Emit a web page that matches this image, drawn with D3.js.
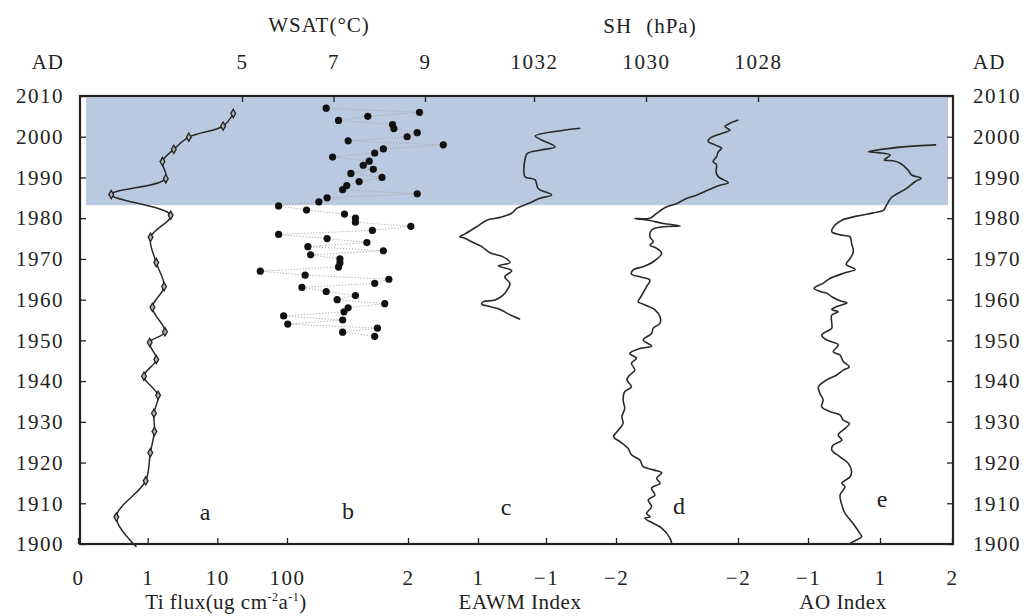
<!DOCTYPE html>
<html>
<head>
<meta charset="utf-8">
<script src="https://cdn.jsdelivr.net/npm/d3@7/dist/d3.min.js"></script>
<style>
html,body{margin:0;padding:0;background:#fff;}
svg text{font-family:"Liberation Serif","Times New Roman",serif;fill:#222;}
</style>
</head>
<body>
<svg id="chart" width="1027" height="616"></svg>
<script>
// ---------------- DATA ----------------
const yearTicks = [1900,1910,1920,1930,1940,1950,1960,1970,1980,1990,2000,2010];
const bandYears = [1983.2, 2009.7];

// a: Ti flux (ug cm-2 a-1), log scale
const tiYear = [2005.7,2002.6,1999.9,1996.9,1993.9,1989.7,1985.8,1980.7,1975.3,1969.1,1963.2,1958.1,1952.1,1949.5,1945.3,1941.2,1936.5,1932.1,1927.6,1922.4,1915.5,1906.6,1899.3];
const tiFlux = [16.9,12.1,3.9,2.37,1.63,1.82,0.30,2.14,1.10,1.33,1.72,1.17,1.77,1.07,1.33,0.885,1.41,1.23,1.25,1.09,0.936,0.355,0.69];
const tiTickValues = [0.1,1,10,100];
const tiTickLabels = ["0","1","10","100"];

// b: WSAT (°C), annual 2007 -> 1951
const wsatYear = d3.range(2007,1950,-1);
const wsatValue = [6.84,8.88,7.75,7.11,8.29,8.32,8.83,8.61,7.32,9.40,8.09,7.90,6.98,7.78,7.65,7.87,7.38,8.06,7.56,7.29,7.20,8.83,6.86,6.68,5.80,6.41,7.24,7.48,7.48,8.69,7.85,5.80,6.86,7.73,6.44,8.09,6.50,7.14,7.14,7.11,5.40,6.38,8.21,7.90,6.31,6.84,7.48,7.08,8.12,7.32,7.23,5.91,7.20,6.00,7.96,7.20,7.90];
const wsatTicks = [5,7,9];

// c: EAWM Index
const eawmYear = [2002.1,2001.6,2000.2,1999.4,1997.5,1996.7,1995.9,1994.3,1992.2,1990.2,1989.4,1987.3,1985.7,1984.9,1983.6,1982.4,1981.2,1980.2,1979.5,1977.9,1976.1,1975.4,1975.1,1974.2,1973.0,1971.5,1970.5,1969.1,1968.3,1967.1,1965.6,1964.0,1962.8,1961.1,1959.9,1959.5,1958.9,1958.3,1957.6,1956.5,1955.2];
const eawmIndex = [-1.49,-1.25,-0.68,-0.82,-1.13,-0.82,-0.45,-0.38,-0.35,-0.38,-0.68,-0.77,-1.08,-0.82,-0.48,-0.14,0.01,0.35,0.74,1.02,1.19,1.26,1.19,1.09,0.89,0.65,0.26,0.06,0.40,0.01,0.21,0.06,0.11,0.26,0.50,0.84,0.89,0.65,0.35,0.11,-0.24];
const eawmTicks = [2,1,-1,-2];

// d: SH (hPa)
const shYear = [2004.1,2003.3,2002.5,2001.6,2000.8,1999.6,1998.8,1998.0,1997.2,1996.3,1995.1,1993.9,1993.1,1991.4,1990.2,1988.7,1988.1,1986.9,1985.7,1984.9,1983.6,1982.8,1981.2,1980.0,1979.9,1979.5,1978.7,1978.1,1977.9,1977.1,1975.4,1974.2,1973.4,1972.6,1971.4,1969.3,1968.1,1967.3,1966.3,1965.6,1964.8,1963.2,1961.7,1960.3,1959.5,1958.7,1957.5,1955.8,1954.2,1953.0,1951.7,1950.1,1948.6,1948.0,1946.8,1945.6,1944.4,1942.7,1941.5,1940.3,1938.6,1937.4,1935.4,1933.3,1931.3,1929.6,1928.0,1926.3,1925.1,1923.5,1921.9,1920.6,1919.0,1918.2,1917.5,1916.1,1914.9,1913.7,1912.0,1910.8,1909.2,1907.5,1906.7,1906.3,1905.1,1903.9,1901.4,1900.0];
const shValue = [1028.35,1028.50,1028.59,1028.50,1028.65,1028.86,1028.89,1028.77,1028.65,1028.71,1028.74,1028.80,1028.74,1028.75,1028.71,1028.53,1028.68,1028.89,1029.09,1029.27,1029.45,1029.63,1029.81,1029.93,1030.20,1029.96,1029.69,1029.39,1029.69,1029.90,1029.93,1029.87,1029.93,1029.81,1029.72,1029.87,1030.05,1030.23,1030.26,1030.11,1029.93,1029.99,1030.05,1030.11,1030.14,1030.02,1029.84,1029.75,1029.75,1029.87,1029.90,1030.05,1029.90,1030.11,1030.29,1030.17,1030.26,1030.20,1030.29,1030.34,1030.26,1030.38,1030.41,1030.38,1030.43,1030.41,1030.49,1030.58,1030.46,1030.32,1030.26,1030.11,1030.05,1029.87,1029.72,1029.81,1029.75,1029.90,1029.84,1029.96,1029.90,1029.99,1029.93,1030.02,1029.87,1029.72,1029.57,1029.54];
const shTicks = [1032,1030,1028];

// e: AO Index
const aoYear = [1998.0,1997.5,1996.3,1996.1,1995.5,1994.3,1994.1,1993.5,1991.8,1990.6,1989.8,1989.0,1987.3,1985.7,1985.1,1983.2,1982.0,1981.3,1980.5,1979.5,1978.3,1976.7,1975.9,1975.4,1973.8,1971.8,1970.1,1968.7,1967.4,1966.6,1965.2,1964.0,1962.8,1961.9,1961.6,1960.7,1959.7,1959.2,1958.3,1957.6,1957.0,1956.2,1954.2,1953.0,1951.3,1950.1,1948.9,1947.2,1946.4,1944.8,1943.5,1942.7,1941.5,1940.3,1938.6,1937.0,1935.4,1933.7,1932.5,1931.7,1930.4,1929.6,1928.4,1926.8,1925.5,1924.3,1923.1,1921.4,1919.8,1917.8,1916.5,1914.9,1914.1,1912.0,1909.6,1907.5,1905.5,1902.6,1901.8,1900.8,1900.2];
const aoValue = [1.78,1.32,0.68,0.95,1.14,1.06,1.18,1.28,1.39,1.44,1.57,1.49,1.37,1.21,1.16,1.09,1.05,0.81,0.35,-0.06,-0.25,-0.34,-0.11,0.17,0.21,0.26,0.17,0.06,0.31,0.03,-0.39,-0.58,-0.83,-0.62,-0.48,-0.34,-0.11,0.08,-0.20,-0.34,-0.16,-0.34,-0.34,-0.34,-0.62,-0.48,-0.16,-0.30,-0.11,-0.02,0.15,-0.02,-0.20,-0.48,-0.71,-0.67,-0.58,-0.62,-0.39,-0.11,-0.02,0.15,0.03,-0.16,-0.06,-0.30,-0.34,-0.11,0.12,0.21,0.17,-0.06,0.03,-0.11,-0.06,0.03,0.21,0.44,0.49,0.31,0.17];
const aoTicks = [-2,-1,1,2];

const panelLetters = ["a","b","c","d","e"];

// ---------------- LAYOUT ----------------
const svg = d3.select("#chart");
const L = 80, R = 953, T = 96, B = 544;
const FS = 21;
const SERIF = '"Liberation Serif","Times New Roman",serif';

const y = d3.scaleLinear().domain([1900,2010]).range([B,T]);
const xTi = d3.scaleLog().domain([0.1,100]).range([78,287]);
const xW = d3.scaleLinear().domain([5,9]).range([242,425]);
const xE = d3.scaleLinear().domain([2,1,-1,-2]).range([408,478,546,616]);
const xS = d3.scaleLinear().domain([1032,1028]).range([534,758]);
const xA = d3.scaleLinear().domain([-2,-1,1,2]).range([738,808,880,952]);

// band
svg.append("rect")
  .attr("x", L+6).attr("width", R-L-11)
  .attr("y", y(bandYears[1])).attr("height", y(bandYears[0]) - y(bandYears[1]))
  .attr("fill", "#b9c9df");

function styleAxis(g){
  g.attr("font-family", SERIF).attr("font-size", FS);
  g.select(".domain").remove();
  g.selectAll(".tick line").attr("stroke","#222").attr("stroke-width",1.3);
  g.selectAll(".tick text").attr("font-size",FS).attr("letter-spacing","1.5px")
    .attr("font-family",SERIF).attr("fill","#222");
}

// left / right year axes
svg.append("g").attr("transform",`translate(${L},0)`)
  .call(d3.axisLeft(y).tickValues(yearTicks).tickFormat(d3.format("d")).tickSizeInner(-6).tickSizeOuter(0).tickPadding(16))
  .call(styleAxis);
svg.append("g").attr("transform",`translate(${R},0)`)
  .call(d3.axisRight(y).tickValues(yearTicks).tickFormat(d3.format("d")).tickSizeInner(-6).tickSizeOuter(0).tickPadding(20))
  .call(styleAxis);

// top axes
svg.append("g").attr("transform",`translate(0,${T})`)
  .call(d3.axisTop(xW).tickValues(wsatTicks).tickFormat(d3.format("d")).tickSizeInner(-6).tickSizeOuter(0).tickPadding(27))
  .call(styleAxis);
svg.append("g").attr("transform",`translate(0,${T})`)
  .call(d3.axisTop(xS).tickValues(shTicks).tickFormat(d3.format("d")).tickSizeInner(-6).tickSizeOuter(0).tickPadding(27))
  .call(styleAxis);

// bottom axes
const minusFmt = d => d < 0 ? "\u2212" + Math.abs(d) : String(d);
svg.append("g").attr("transform",`translate(0,${B})`)
  .call(d3.axisBottom(xTi).tickValues(tiTickValues).tickFormat((d,i)=>tiTickLabels[i]).tickSizeInner(-6).tickSizeOuter(0).tickPadding(26))
  .call(styleAxis);
svg.append("g").attr("transform",`translate(0,${B})`)
  .call(d3.axisBottom(xE).tickValues(eawmTicks).tickFormat(minusFmt).tickSizeInner(-6).tickSizeOuter(0).tickPadding(26))
  .call(styleAxis);
svg.append("g").attr("transform",`translate(0,${B})`)
  .call(d3.axisBottom(xA).tickValues(aoTicks).tickFormat(minusFmt).tickSizeInner(-6).tickSizeOuter(0).tickPadding(26))
  .call(styleAxis);

// frame
svg.append("rect").attr("x",L).attr("y",T).attr("width",R-L).attr("height",B-T)
  .attr("fill","none").attr("stroke","#222").attr("stroke-width",2.2);

// AD labels
svg.append("text").attr("x",L-16).attr("y",69).attr("text-anchor","end").attr("font-size",FS).attr("letter-spacing","1px").text("AD");
svg.append("text").attr("x",R+20).attr("y",69).attr("text-anchor","start").attr("font-size",FS).attr("letter-spacing","1px").text("AD");

// top titles
svg.append("text").attr("x",319).attr("y",32).attr("text-anchor","middle").attr("font-size",FS).attr("letter-spacing","1px").text("WSAT(°C)");
const sh = svg.append("text").attr("x",650).attr("y",33).attr("text-anchor","middle").attr("font-size",FS).attr("letter-spacing","1px");
sh.append("tspan").text("SH");
sh.append("tspan").attr("dx",14).text("(hPa)");

// bottom titles
const BT = 609;
const ti = svg.append("text").attr("x",226).attr("y",BT).attr("text-anchor","middle").attr("font-size",FS).attr("letter-spacing","0.5px");
ti.append("tspan").text("Ti flux(ug cm");
ti.append("tspan").attr("font-size",12).attr("dy",-8).text("-2");
ti.append("tspan").attr("dy",8).text("a");
ti.append("tspan").attr("font-size",12).attr("dy",-8).text("-1");
ti.append("tspan").attr("dy",8).text(")");
svg.append("text").attr("x",520).attr("y",BT).attr("text-anchor","middle").attr("font-size",FS).attr("letter-spacing","0.5px").text("EAWM Index");
svg.append("text").attr("x",843).attr("y",BT).attr("text-anchor","middle").attr("font-size",FS).attr("letter-spacing","0.5px").text("AO Index");

// ---------------- SERIES ----------------
const lineColor = "#2a2a2a";

// a: Ti flux
const tiData = tiYear.map((yr,i)=>({yr, v:tiFlux[i]}));
svg.append("path").datum(tiData)
  .attr("d", d3.line().x(d=>xTi(d.v)).y(d=>y(d.yr)).curve(d3.curveCatmullRom.alpha(0.5)))
  .attr("fill","none").attr("stroke",lineColor).attr("stroke-width",1.5);
svg.selectAll(".tiMark").data(tiData.slice(0,-1)).enter().append("path")
  .attr("transform",d=>`translate(${xTi(d.v)},${y(d.yr)})`)
  .attr("d", d3.symbol().type(d3.symbolDiamond).size(20))
  .attr("fill","#b0b0b0").attr("stroke","#222").attr("stroke-width",1.3);

// b: WSAT
const wData = wsatYear.map((yr,i)=>({yr, v:wsatValue[i]}));
svg.append("path").datum(wData)
  .attr("d", d3.line().x(d=>xW(d.v)).y(d=>y(d.yr)))
  .attr("fill","none").attr("stroke","#a9a9a9").attr("stroke-width",1).attr("stroke-dasharray","1.2,1.8");
svg.selectAll(".wDot").data(wData).enter().append("circle")
  .attr("cx",d=>xW(d.v)).attr("cy",d=>y(d.yr)).attr("r",3.6).attr("fill","#111");

// c: EAWM
svg.append("path").datum(eawmYear.map((yr,i)=>({yr,v:eawmIndex[i]})))
  .attr("d", d3.line().x(d=>xE(d.v)).y(d=>y(d.yr)).curve(d3.curveCatmullRom.alpha(0.5)))
  .attr("fill","none").attr("stroke",lineColor).attr("stroke-width",1.6);

// d: SH
svg.append("path").datum(shYear.map((yr,i)=>({yr,v:shValue[i]})))
  .attr("d", d3.line().x(d=>xS(d.v)).y(d=>y(d.yr)).curve(d3.curveCatmullRom.alpha(0.5)))
  .attr("fill","none").attr("stroke",lineColor).attr("stroke-width",1.6);

// e: AO
svg.append("path").datum(aoYear.map((yr,i)=>({yr,v:aoValue[i]})))
  .attr("d", d3.line().x(d=>xA(d.v)).y(d=>y(d.yr)).curve(d3.curveCatmullRom.alpha(0.5)))
  .attr("fill","none").attr("stroke",lineColor).attr("stroke-width",1.6);

// panel letters
const letterPos = [[205,520],[348,519],[506,515],[679,514],[882,507]];
svg.selectAll(".letter").data(panelLetters).enter().append("text")
  .attr("x",(d,i)=>letterPos[i][0]).attr("y",(d,i)=>letterPos[i][1])
  .attr("text-anchor","middle").attr("font-size",24).text(d=>d);
</script>
</body>
</html>
